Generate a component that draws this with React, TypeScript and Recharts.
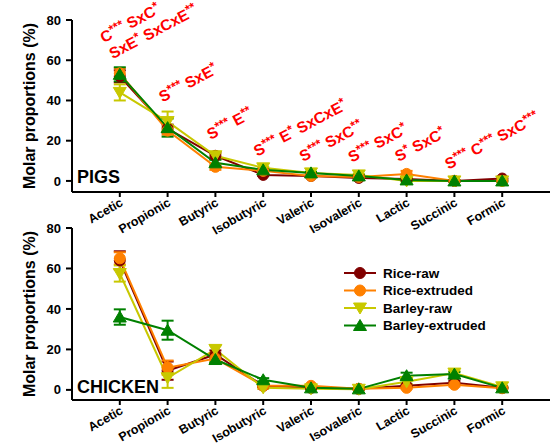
import * as React from 'react';
import {LineChart, Line, XAxis, YAxis, ErrorBar, ReferenceDot, Customized} from 'recharts';

const FONT = 'Arial, "Liberation Sans", sans-serif';

const CATEGORIES = ['Acetic', 'Propionic', 'Butyric', 'Isobutyric', 'Valeric', 'Isovaleric', 'Lactic', 'Succinic', 'Formic'];

// pigs
const pigRiceRaw = [52, 26, 12.5, 3, 2.5, 1.5, 1, 0, 1.2];
const pigRiceRawErr = [3, 2, 1.5, 0.5, 0.5, 0.5, 0.5, 0.3, 0.3];
const pigRiceExt = [53.5, 25, 7, 5, 2.5, 2, 3.5, 0, 0];
const pigRiceExtErr = [2.5, 2, 1.5, 0.5, 0.5, 0.5, 1.5, 0.3, 0.3];
const pigBarleyRaw = [44, 29.5, 12.5, 6.5, 4, 3, 0, 0, 0];
const pigBarleyRawErr = [4, 5, 1, 0.5, 0.5, 0.5, 0.5, 0.3, 0.3];
const pigBarleyExt = [53, 26.5, 9, 5.5, 4, 2.5, 0.5, 0, 0];
const pigBarleyExtErr = [3.5, 4.5, 1.5, 0.5, 0.5, 0.5, 0.5, 0.3, 0.3];

// chicken
const chkRiceRaw = [64, 9.5, 17.5, 2, 1, 0.5, 2, 3.5, 1];
const chkRiceRawErr = [4.5, 4.5, 2, 0.5, 0.5, 0.3, 0.5, 1, 0.3];
const chkRiceExt = [65, 11, 15.5, 2, 2, 0.5, 1, 2.5, 0.8];
const chkRiceExtErr = [3, 3.5, 1.5, 0.5, 0.5, 0.3, 0.5, 0.8, 0.3];
const chkBarleyRaw = [57.5, 6, 20, 1, 0.5, 0.3, 4, 8.3, 1.5];
const chkBarleyRawErr = [4, 5, 2, 0.5, 0.3, 0.3, 1, 1, 0.3];
const chkBarleyExt = [36, 29.5, 15, 5, 1, 0.5, 7, 7.8, 1];
const chkBarleyExtErr = [3.8, 4.7, 1.5, 0.8, 0.3, 0.3, 1.5, 1, 0.3];

// significance notes above the pig curves: category index, height (%), text
const pigNotes = [
    {cat: 0, y: 68.5, dx: -16, text: 'C*** SxC*'},
    {cat: 0, y: 60.5, dx: -7, text: 'SxE* SxCxE**'},
    {cat: 1, y: 39, dx: -5, text: 'S*** SxE*'},
    {cat: 2, y: 20.4, dx: -5, text: 'S*** E**'},
    {cat: 3, y: 12, dx: -6, text: 'S*** E* SxCxE*'},
    {cat: 4, y: 9.4, dx: -8, text: 'S*** SxC**'},
    {cat: 5, y: 9, dx: -7, text: 'S*** SxC*'},
    {cat: 6, y: 9.4, dx: -8, text: 'S* SxC*'},
    {cat: 7, y: 5.5, dx: -6, text: 'S*** C*** SxC***'},
];

const SERIES = [
    {key: 'riceRaw', name: 'Rice-raw', color: '#800000', shape: 'circle'},
    {key: 'riceExt', name: 'Rice-extruded', color: '#FF8000', shape: 'circle'},
    {key: 'barleyRaw', name: 'Barley-raw', color: '#C8C800', shape: 'down'},
    {key: 'barleyExt', name: 'Barley-extruded', color: '#008000', shape: 'up'},
];

function buildRows(vals: number[][], errs: number[][]) {
    return CATEGORIES.map((name, i) => {
        const row: any = {x: i, name};
        SERIES.forEach((s, j) => {
            row[s.key] = vals[j][i];
            row[s.key + 'Err'] = errs[j][i];
        });
        return row;
    });
}

const pigData = buildRows(
    [pigRiceRaw, pigRiceExt, pigBarleyRaw, pigBarleyExt],
    [pigRiceRawErr, pigRiceExtErr, pigBarleyRawErr, pigBarleyExtErr]);
const chickenData = buildRows(
    [chkRiceRaw, chkRiceExt, chkBarleyRaw, chkBarleyExt],
    [chkRiceRawErr, chkRiceExtErr, chkBarleyRawErr, chkBarleyExtErr]);

function Marker({cx, cy, shape, color}: any) {
    if (cx == null || cy == null) return null;
    if (shape === 'circle') return <circle cx={cx} cy={cy} r={5.5} fill={color} stroke={color}/>;
    const pts = shape === 'down'
        ? `${cx - 6.5},${cy - 5} ${cx + 6.5},${cy - 5} ${cx},${cy + 6}`
        : `${cx - 6.5},${cy + 5} ${cx + 6.5},${cy + 5} ${cx},${cy - 6}`;
    return <polygon points={pts} fill={color} stroke={color}/>;
}

function XTick({x, y, payload}: any) {
    return (
        <g transform={`translate(${x + 4},${y + 6}) rotate(-30)`}>
            <text textAnchor="end" fontFamily={FONT} fontWeight="bold" fontSize={12.5} fill="#000">
                {CATEGORIES[payload.value]}
            </text>
        </g>
    );
}

function Note({cx, cy, dx, text}: any) {
    const parts = text.match(/\*+|[^*]+/g) || [];
    let raised = false;
    return (
        <text x={cx + dx} y={cy} transform={`rotate(-28, ${cx + dx}, ${cy})`} fill="#FF0000"
              fontFamily={FONT} fontWeight="bold" fontSize={15.5}>
            {parts.map((p: string, i: number) => {
                const star = p[0] === '*';
                const dy = star && !raised ? -4.5 : !star && raised ? 4.5 : 0;
                raised = star;
                return <tspan key={i} dy={dy} fontSize={star ? 12.5 : 15.5}>{p}</tspan>;
            })}
        </text>
    );
}

function YLabel({viewBox}: any) {
    const cy = viewBox.y + viewBox.height / 2;
    return (
        <text x={29} y={cy} transform={`rotate(-90, 29, ${cy})`} textAnchor="middle" dominantBaseline="central"
              fontFamily={FONT} fontWeight="bold" fontSize={16} fill="#000">Molar proportions (%)</text>
    );
}

function LegendBox() {
    return (
        <g transform="translate(344, 57)">
            {SERIES.map((s, i) => (
                <g key={s.key}>
                    <line x1={0} x2={32} y1={8 + i * 17.5} y2={8 + i * 17.5} stroke={s.color} strokeWidth={2}/>
                    <Marker cx={16} cy={8 + i * 17.5} shape={s.shape} color={s.color}/>
                    <text x={39} y={8 + i * 17.5} dominantBaseline="central" fontFamily={FONT} fontWeight="bold"
                          fontSize={13.5} fill="#000">{s.name}</text>
                </g>
            ))}
        </g>
    );
}

function Panel({data, title, yMin, height, notes, legend}: any) {
    return (
        <LineChart width={557} height={height} data={data}
                   margin={{top: 20, right: 7, left: 0, bottom: height - 192 - 40}}>
            <XAxis type="number" dataKey="x" domain={[-1, 9]} ticks={[0, 1, 2, 3, 4, 5, 6, 7, 8]} interval={0}
                   allowDataOverflow height={40} tick={<XTick/>} tickSize={5} tickMargin={2}
                   axisLine={{stroke: '#000', strokeWidth: 2}} tickLine={{stroke: '#000', strokeWidth: 2}}/>
            <YAxis type="number" domain={[yMin, 80]} ticks={[0, 20, 40, 60, 80]} allowDataOverflow width={72}
                   tickSize={6} tickMargin={5}
                   tick={{fill: '#000', fontSize: 13, fontWeight: 'bold', fontFamily: FONT}}
                   axisLine={{stroke: '#000', strokeWidth: 2}} tickLine={{stroke: '#000', strokeWidth: 2}}
                   label={{content: <YLabel/>}}/>
            {SERIES.map(s => (
                <Line key={s.key} dataKey={s.key} name={s.name} stroke={s.color} strokeWidth={2}
                      isAnimationActive={false} activeDot={false}
                      dot={(p: any) => <Marker key={p.index} cx={p.cx} cy={p.cy} shape={s.shape} color={s.color}/>}>
                    <ErrorBar dataKey={s.key + 'Err'} direction="y" width={6} stroke={s.color} strokeWidth={2}
                              isAnimationActive={false}/>
                </Line>
            ))}
            {(notes || []).map((n: any, i: number) => (
                <ReferenceDot key={i} x={n.cat} y={n.y} r={0}
                              shape={(p: any) => <Note cx={p.cx} cy={p.cy} dx={n.dx} text={n.text}/>}/>
            ))}
            <Customized component={() => (
                <text x={77} y={height === 250 ? 183 : 185} fontFamily={FONT} fontWeight="bold" fontSize={18}
                      fill="#000">{title}</text>
            )}/>
            {legend && <Customized component={() => <LegendBox/>}/>}
        </LineChart>
    );
}

export default function App() {
    return (
        <div style={{position: 'absolute', left: 0, top: 0, width: 557, height: 444, background: '#fff'}}>
            <div style={{position: 'absolute', left: 0, top: 0}}>
                <Panel data={pigData} title="PIGS" yMin={-5.5} height={250} notes={pigNotes}/>
            </div>
            <div style={{position: 'absolute', left: 0, top: 208}}>
                <Panel data={chickenData} title="CHICKEN" yMin={-5} height={236} legend/>
            </div>
        </div>
    );
}
